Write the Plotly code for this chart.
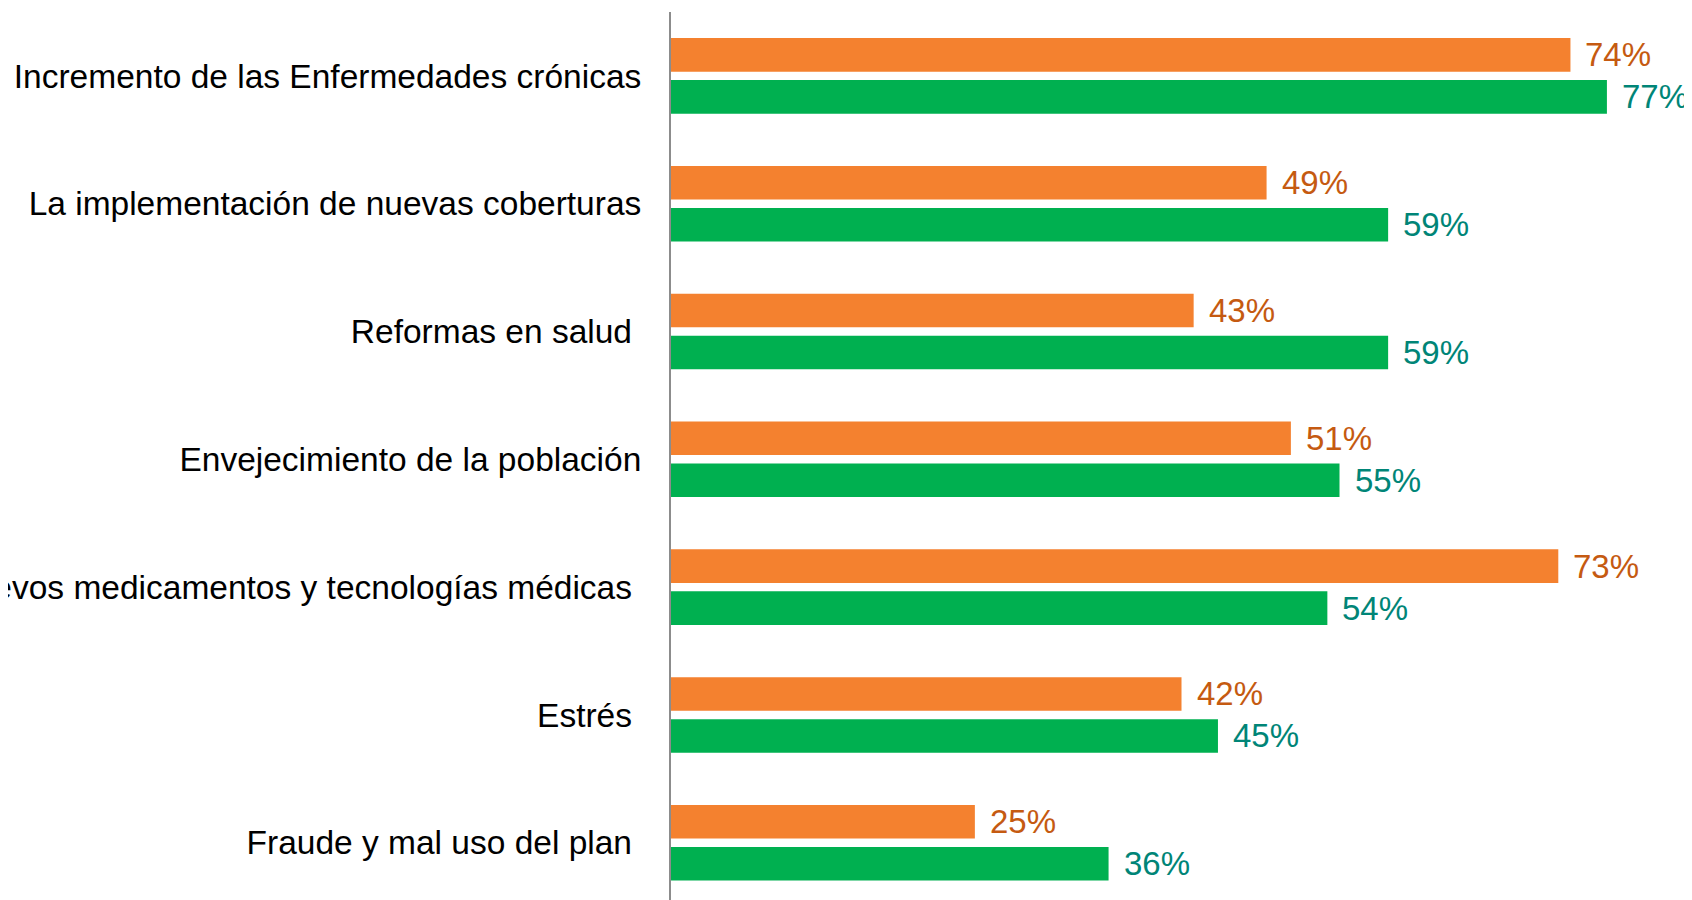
import plotly.graph_objects as go

categories = [
    "Incremento de las Enfermedades crónicas",
    "La implementación de nuevas coberturas",
    "Reformas en salud\u00a0",
    "Envejecimiento de la población",
    "Nuevos medicamentos y tecnologías médicas\u00a0",
    "Estrés\u00a0",
    "Fraude y mal uso del plan\u00a0",
]
serie_naranja = [74, 49, 43, 51, 73, 42, 25]
serie_verde = [77, 59, 59, 55, 54, 45, 36]

ORANGE = "#F4812F"
GREEN = "#00B050"
ORANGE_TXT = "#C55A11"
GREEN_TXT = "#008577"
FONT = "Liberation Sans, Arial, sans-serif"

fig = go.Figure()
fig.add_trace(go.Bar(y=categories, x=serie_naranja, orientation="h",
                     marker=dict(color=ORANGE, line=dict(width=0)), name="A"))
fig.add_trace(go.Bar(y=categories, x=serie_verde, orientation="h",
                     marker=dict(color=GREEN, line=dict(width=0)), name="B"))

pitch_px = 42
annotations = []
for cat, v in zip(categories, serie_naranja):
    annotations.append(dict(x=v, y=cat, xref="x", yref="y", text=f"{v}%",
                            showarrow=False, xanchor="left", yanchor="middle",
                            xshift=13, yshift=pitch_px / 2,
                            font=dict(family=FONT, size=33, color=ORANGE_TXT)))
for cat, v in zip(categories, serie_verde):
    annotations.append(dict(x=v, y=cat, xref="x", yref="y", text=f"{v}%",
                            showarrow=False, xanchor="left", yanchor="middle",
                            xshift=13, yshift=-pitch_px / 2,
                            font=dict(family=FONT, size=33, color=GREEN_TXT)))

# page body adds an 8px margin; compensate so the figure fills the window
fig.update_layout(
    width=1684, height=892,
    margin=dict(l=663, r=0, t=4, b=0),
    paper_bgcolor="white", plot_bgcolor="white",
    barmode="group", bargap=0.343, bargroupgap=0.2,
    showlegend=False,
    annotations=annotations,
    font=dict(family=FONT, size=33, color="black"),
)
fig.update_xaxes(range=[0, 84], visible=False, showgrid=False, zeroline=False)
fig.update_yaxes(type="category", range=[6.448, -0.5], automargin=False,
                 showline=True, linecolor="#8C8C8C", linewidth=2,
                 showgrid=False, zeroline=False, ticks="",
                 ticklabelstandoff=21,
                 tickfont=dict(family=FONT, size=33.5, color="black"))

fig.write_html("out.html", post_script="document.body.style.overflow='hidden';")
